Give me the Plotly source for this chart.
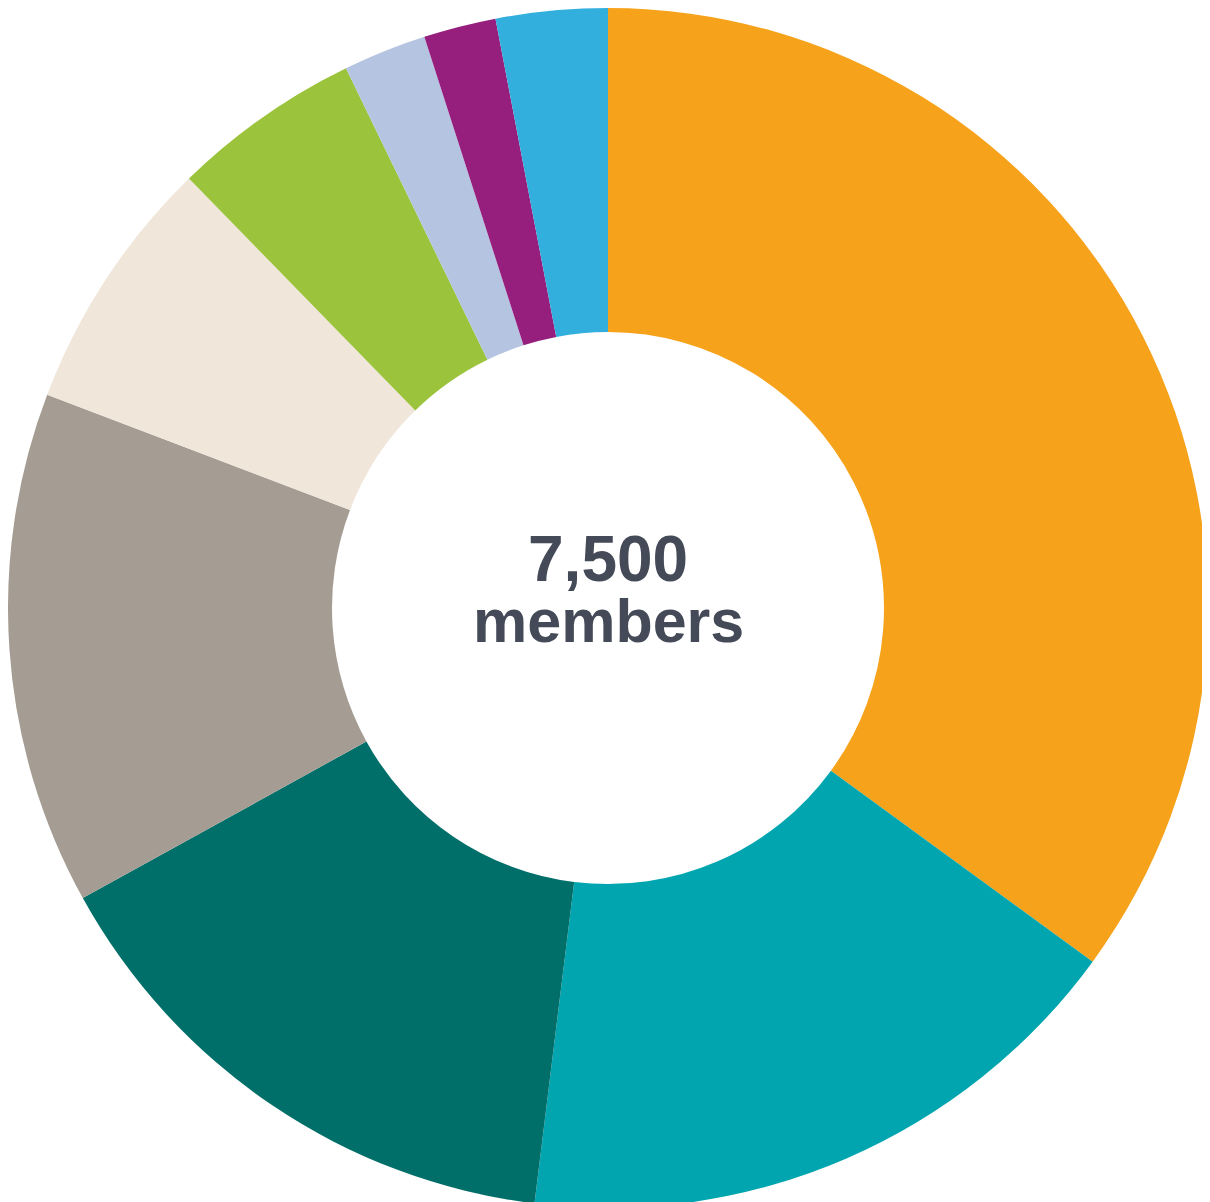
import plotly.graph_objects as go

categories = ["Category 1", "Category 2", "Category 3", "Category 4", "Category 5",
              "Category 6", "Category 7", "Category 8", "Category 9"]
members = [2625, 1268, 1125, 1035, 518, 383, 168, 146, 225]
colors = ["#F6A21B", "#00A5AF", "#006E69", "#A59D93", "#F0E6DA",
          "#9BC43C", "#B5C4E1", "#961E7D", "#32AFDC"]
total_label = "7,500"
unit_label = "members"

fig = go.Figure(go.Pie(
    labels=categories,
    values=members,
    hole=0.46,
    sort=False,
    direction="clockwise",
    rotation=0,
    textinfo="none",
    hoverinfo="label+value+percent",
    marker=dict(colors=colors, line=dict(width=0)),
    showlegend=False,
))

fig.add_annotation(text="<b>" + total_label + "</b>", x=0.5, y=0.5406,
                   xref="paper", yref="paper",
                   showarrow=False, xanchor="center", yanchor="middle", borderpad=0,
                   font=dict(family="Liberation Sans, Arial", size=64, color="#454A58"))
fig.add_annotation(text="<b>" + unit_label + "</b>", x=0.5, y=0.4892,
                   xref="paper", yref="paper",
                   showarrow=False, xanchor="center", yanchor="middle", borderpad=0,
                   font=dict(family="Liberation Sans, Arial", size=61, color="#454A58"))

fig.update_layout(
    width=1200, height=1200,
    margin=dict(l=0, r=0, t=0, b=0),
    paper_bgcolor="white",
    plot_bgcolor="white",
)

fig.write_html("out.html", post_script="document.body.style.overflow='hidden';")
